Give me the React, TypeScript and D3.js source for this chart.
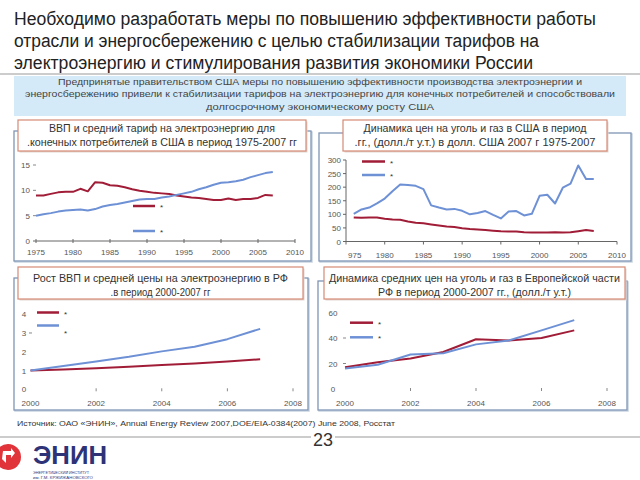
import React from "react";
import * as d3 from "d3";

const FONT = "'Liberation Sans', Arial, sans-serif";
const RED = "#a11d37";
const BLUE = "#6e91d6";
const FRAME = "#7f95b4";
const BOX = "#d58a76";
const TICK = "#555";

const TITLE_LINES = [
  "Необходимо разработать меры по повышению эффективности работы",
  "отрасли и энергосбережению с целью стабилизации тарифов на",
  "электроэнергию и стимулирования развития экономики России",
];
const TITLE_W = [582, 525, 519];
const SUBTITLE_LINES = [
  "Предпринятые правительством США меры по повышению эффективности производства электроэнергии и",
  "энергосбережению привели к стабилизации тарифов на электроэнергию для конечных потребителей и способствовали",
  "долгосрочному экономическому росту США",
];
const SUBTITLE_W = [524, 590, 228];

const TL_TITLE = ["ВВП и средний тариф на электроэнергию для", ".конечных потребителей в США в период 1975-2007 гг"];
const TR_TITLE = ["Динамика цен на уголь и газ в США в период", ".гг., (долл./т у.т.) в долл. США 2007 г 1975-2007"];
const BL_TITLE = ["Рост ВВП и средней цены на электроэнергию  в РФ", ".в период 2000-2007 гг"];
const BR_TITLE = ["Динамика средних цен на уголь и газ в Европейской части", "РФ в период 2000-2007 гг., (долл./т у.т.)"];

// US GDP & tariff 1975-2007
const US_YEARS = [1975, 1976, 1977, 1978, 1979, 1980, 1981, 1982, 1983, 1984, 1985, 1986, 1987, 1988, 1989, 1990, 1991, 1992, 1993, 1994, 1995, 1996, 1997, 1998, 1999, 2000, 2001, 2002, 2003, 2004, 2005, 2006, 2007];
const US_TARIFF = [9.0, 9.0, 9.3, 9.6, 9.7, 9.7, 10.3, 9.8, 11.6, 11.5, 11.0, 10.9, 10.6, 10.2, 9.9, 9.7, 9.5, 9.4, 9.3, 9.0, 8.8, 8.6, 8.5, 8.3, 8.1, 8.1, 8.4, 8.1, 8.3, 8.3, 8.5, 9.1, 9.0];
const US_GDP = [5.0, 5.3, 5.5, 5.8, 6.0, 6.1, 6.2, 6.0, 6.3, 6.8, 7.1, 7.3, 7.6, 7.9, 8.2, 8.3, 8.3, 8.6, 8.8, 9.1, 9.4, 9.7, 10.2, 10.6, 11.1, 11.5, 11.6, 11.8, 12.1, 12.6, 13.0, 13.4, 13.6];
const US_X_TICKS = [1975, 1980, 1985, 1990, 1995, 2000, 2005, 2010];
const US_X_LABELS = ["1975", "1980", "1985", "1990", "1995", "2000", "2005", "2010"];
const US_Y_TICKS = [0, 5, 10, 15];

// US coal & gas prices
const FUEL_YEARS = [1976, 1977, 1978, 1979, 1980, 1981, 1982, 1983, 1984, 1985, 1986, 1987, 1988, 1989, 1990, 1991, 1992, 1993, 1994, 1995, 1996, 1997, 1998, 1999, 2000, 2001, 2002, 2003, 2004, 2005, 2006, 2007];
const US_COAL = [88, 87, 88, 88, 84, 81, 80, 74, 69, 67, 63, 59, 55, 53, 49, 46, 44, 42, 40, 38, 37, 37, 34, 33, 33, 33, 34, 33, 34, 38, 42, 39];
const US_GAS = [102, 118, 125, 140, 158, 185, 210, 208, 205, 193, 133, 125, 118, 120, 113, 100, 105, 112, 98, 85, 110, 112, 96, 102, 168, 172, 140, 198, 213, 280, 230, 230];
const FUEL_X_TICKS = [1975, 1980, 1985, 1990, 1995, 2000, 2005, 2010];
const FUEL_X_LABELS = ["975", "1980", "1985", "1990", "1995", "2000", "2005", "2010"];
const FUEL_Y_TICKS = [0, 50, 100, 150, 200, 250, 300];

// Russia 2000-2007
const RU_YEARS = [2000, 2001, 2002, 2003, 2004, 2005, 2006, 2007];
const RU_PRICE = [1.0, 1.05, 1.12, 1.2, 1.3, 1.38, 1.48, 1.6];
const RU_GDP = [1.0, 1.24, 1.48, 1.73, 2.02, 2.27, 2.67, 3.22];
const RU_X_TICKS = [2000, 2002, 2004, 2006, 2008];
const RU_X_LABELS = ["2000", "2002", "2004", "2006", "2008"];
const RU_Y_TICKS = [0, 1, 2, 3, 4];

const EU_COAL = [17, 21, 24, 29, 39, 38, 40, 46];
const EU_GAS = [16, 19, 27, 28, 35, 38, 46, 54];
const EU_Y_TICKS = [0, 20, 40, 60];

type Series = { values: number[]; color: string };

function Lines({ years, series, x, y }: { years: number[]; series: Series[]; x: any; y: any }) {
  const line = (vals: number[]) =>
    d3
      .line<number>()
      .x((_, i) => x(years[i]))
      .y((d) => y(d))(vals) as string;
  return (
    <g>
      {series.map((s, i) => (
        <path key={i} d={line(s.values)} fill="none" stroke={s.color} strokeWidth={2} strokeLinejoin="round" />
      ))}
    </g>
  );
}

function Legend({ x, y1, y2, len, starDy = 0 }: { x: number; y1: number; y2: number; len: number; starDy?: number }) {
  return (
    <g>
      <line x1={x} x2={x + len} y1={y1} y2={y1} stroke={RED} strokeWidth={2.5} />
      <text x={x + len + 5} y={y1 + 4} fontSize={8} fill="#333">*</text>
      <line x1={x} x2={x + len} y1={y2} y2={y2} stroke={BLUE} strokeWidth={2.5} />
      <text x={x + len + 5} y={y2 + 4 + starDy} fontSize={8} fill="#333">*</text>
    </g>
  );
}

function Panel({ frame, box, title, lineW, baselines }: any) {
  return (
    <g>
      <rect x={frame[0] + 1} y={frame[1] + 1} width={frame[2] - frame[0]} height={frame[3] - frame[1]} fill="none" stroke="#c9d3e0" strokeWidth={1.5} />
      <rect x={frame[0]} y={frame[1]} width={frame[2] - frame[0]} height={frame[3] - frame[1]} fill="#fff" stroke={FRAME} strokeWidth={1.3} />
      <rect x={box[0] + 1.5} y={box[1] + 1.5} width={box[2] - box[0]} height={box[3] - box[1]} fill="#e2d6d2" />
      <rect x={box[0]} y={box[1]} width={box[2] - box[0]} height={box[3] - box[1]} fill="#fff" stroke={BOX} strokeWidth={1.2} />
      {title.map((t: string, i: number) => (
        <text
          key={i}
          x={(box[0] + box[2]) / 2}
          y={baselines[i]}
          textAnchor="middle"
          fontSize={10.5}
          fill="#333"
          textLength={lineW[i]}
          lengthAdjust="spacingAndGlyphs"
        >
          {t}
        </text>
      ))}
    </g>
  );
}

export default function App() {
  const xTL = d3.scaleLinear().domain([1975, 2010]).range([36, 295]);
  const yTL = d3.scaleLinear().domain([0, 15]).range([241, 165]);
  const xTR = d3.scaleLinear().domain([1975, 2010]).range([346, 617]);
  const yTR = d3.scaleLinear().domain([0, 300]).range([241.5, 160]);
  const xBL = d3.scaleLinear().domain([2000, 2008]).range([30.5, 293]);
  const yBL = d3.scaleLinear().domain([0, 4]).range([389.3, 314.2]);
  const xBR = d3.scaleLinear().domain([2000, 2008]).range([345, 607]);
  const yBR = d3.scaleLinear().domain([0, 60]).range([389, 312.5]);

  const tickText = { fontSize: 8, fill: TICK };

  return (
    <svg width={640} height={480} style={{ position: "absolute", left: 0, top: 0, background: "#fff" }} fontFamily={FONT}>
      <rect width={640} height={480} fill="#fff" />
      {TITLE_LINES.map((t, i) => (
        <text key={i} x={14} y={25 + i * 22} fontSize={18} fill="#222" textLength={TITLE_W[i]} lengthAdjust="spacingAndGlyphs">
          {t}
        </text>
      ))}
      <line x1={0} x2={640} y1={74} y2={74} stroke="#999" strokeWidth={1} />
      <rect x={14} y={76} width={612} height={40} fill="#d5eaf8" />
      {SUBTITLE_LINES.map((t, i) => (
        <text key={i} x={320} y={85 + i * 12.3} textAnchor="middle" fontSize={9.5} fill="#444" textLength={SUBTITLE_W[i]} lengthAdjust="spacingAndGlyphs">
          {t}
        </text>
      ))}

      <Panel frame={[14, 131, 311, 261]} box={[18, 120, 306, 151]} title={TL_TITLE} lineW={[226, 270]} baselines={[132, 146]} />
      <Panel frame={[319, 133, 631, 261]} box={[343, 120, 607, 151]} title={TR_TITLE} lineW={[223, 241]} baselines={[132, 146]} />
      <Panel frame={[14, 278, 308, 410]} box={[18, 267, 303, 299]} title={BL_TITLE} lineW={[255, 100]} baselines={[282, 295.5]} />
      <Panel frame={[318, 281, 627, 410]} box={[324, 267, 625, 299]} title={BR_TITLE} lineW={[291, 193]} baselines={[282, 295.5]} />

      {/* Top-left chart */}
      <g>
        <line x1={33} x2={295} y1={yTL(0)} y2={yTL(0)} stroke="#666" strokeWidth={1} />
        {US_X_TICKS.map((t, i) => (
          <g key={t}>
            <line x1={xTL(t)} x2={xTL(t)} y1={yTL(0) - 2} y2={yTL(0) + 2} stroke="#666" />
            <text x={xTL(t)} y={255} textAnchor="middle" {...tickText}>{US_X_LABELS[i]}</text>
          </g>
        ))}
        {US_Y_TICKS.map((t) => (
          <g key={t}>
            {t > 0 && <line x1={33} x2={36} y1={yTL(t)} y2={yTL(t)} stroke="#888" />}
            <text x={30} y={yTL(t) + 3} textAnchor="end" {...tickText}>{t}</text>
          </g>
        ))}
        <Lines years={US_YEARS} series={[{ values: US_TARIFF, color: RED }, { values: US_GDP, color: BLUE }]} x={xTL} y={yTL} />
        <Legend x={133} y1={206} y2={231} len={22} />
      </g>

      {/* Top-right chart */}
      <g>
        <line x1={xTR(1975)} x2={xTR(1975)} y1={yTR(300)} y2={yTR(0)} stroke="#666" />
        <line x1={xTR(1975)} x2={617} y1={yTR(0)} y2={yTR(0)} stroke="#666" />
        {FUEL_X_TICKS.map((t, i) => (
          <g key={t}>
            <line x1={xTR(t)} x2={xTR(t)} y1={yTR(0)} y2={yTR(0) + 3} stroke="#666" />
            <text x={i === 0 ? xTR(t) + 2 : xTR(t)} y={258} textAnchor={i === 0 ? "start" : "middle"} {...tickText}>
              {FUEL_X_LABELS[i]}
            </text>
          </g>
        ))}
        {FUEL_Y_TICKS.map((t) => (
          <g key={t}>
            <line x1={xTR(1975) - 3} x2={xTR(1975)} y1={yTR(t)} y2={yTR(t)} stroke="#666" />
            <text x={341} y={yTR(t) + 3} textAnchor="end" {...tickText}>{t}</text>
          </g>
        ))}
        <Lines years={FUEL_YEARS} series={[{ values: US_COAL, color: RED }, { values: US_GAS, color: BLUE }]} x={xTR} y={yTR} />
        <Legend x={362} y1={161.5} y2={175} len={23} />
      </g>

      {/* Bottom-left chart */}
      <g>
        {RU_X_TICKS.map((t, i) => (
          <g key={t}>
            {i > 0 && <line x1={xBL(t)} x2={xBL(t)} y1={yBL(0) - 1} y2={yBL(0) + 2} stroke="#888" />}
            <text x={xBL(t)} y={406} textAnchor="middle" {...tickText}>{RU_X_LABELS[i]}</text>
          </g>
        ))}
        {RU_Y_TICKS.map((t) => (
          <g key={t}>
            {t === 3 && <line x1={29} x2={32} y1={yBL(t)} y2={yBL(t)} stroke="#888" />}
            <text x={24} y={yBL(t) + 3} textAnchor="middle" {...tickText}>{t}</text>
          </g>
        ))}
        <Lines years={RU_YEARS} series={[{ values: RU_PRICE, color: RED }, { values: RU_GDP, color: BLUE }]} x={xBL} y={yBL} />
        <Legend x={37} y1={312.5} y2={325.5} len={22} starDy={6} />
      </g>

      {/* Bottom-right chart */}
      <g>
        {RU_X_TICKS.map((t, i) => (
          <g key={t}>
            {i > 0 && <line x1={xBR(t)} x2={xBR(t)} y1={yBR(0) - 1} y2={yBR(0) + 2} stroke="#888" />}
            <text x={xBR(t)} y={406} textAnchor="middle" {...tickText}>{RU_X_LABELS[i]}</text>
          </g>
        ))}
        {EU_Y_TICKS.map((t) => (
          <g key={t}>
            {(t === 20 || t === 40) && <line x1={343} x2={346} y1={yBR(t)} y2={yBR(t)} stroke="#888" />}
            <text x={333} y={yBR(t) + 3} textAnchor="middle" {...tickText}>{t}</text>
          </g>
        ))}
        <Lines years={RU_YEARS} series={[{ values: EU_COAL, color: RED }, { values: EU_GAS, color: BLUE }]} x={xBR} y={yBR} />
        <Legend x={350} y1={322.7} y2={337.3} len={23} />
      </g>

      {/* Footer */}
      <text x={17} y={426} fontSize={8} fill="#333" textLength={378} lengthAdjust="spacingAndGlyphs">
        Источник: ОАО «ЭНИН», Annual Energy Review 2007,DOE/EIA-0384(2007) June 2008, Росстат
      </text>
      <line x1={0} x2={311} y1={437} y2={437} stroke="#999" />
      <line x1={335} x2={640} y1={437} y2={437} stroke="#999" />
      <text x={323} y={446} textAnchor="middle" fontSize={18} fill="#333">23</text>

      {/* Logo */}
      <circle cx={8} cy={457} r={13} fill="#e0343a" />
      <path d="M3,451 L11,451 L11,448 L15,453 L11,458 L11,455 L6,455 L6,463 L2,459 Z" fill="#fff" />
      <text x={33} y={464} fontSize={26} fontWeight="bold" fill="#2e3277" textLength={74} lengthAdjust="spacingAndGlyphs">ЭНИН</text>
      <text x={33} y={473.5} fontSize={4.3} fill="#2e3277" textLength={56} lengthAdjust="spacingAndGlyphs">ЭНЕРГЕТИЧЕСКИЙ ИНСТИТУТ</text>
      <text x={33} y={478.5} fontSize={4.3} fill="#2e3277" textLength={60} lengthAdjust="spacingAndGlyphs">им. Г.М. КРЖИЖАНОВСКОГО</text>
    </svg>
  );
}
